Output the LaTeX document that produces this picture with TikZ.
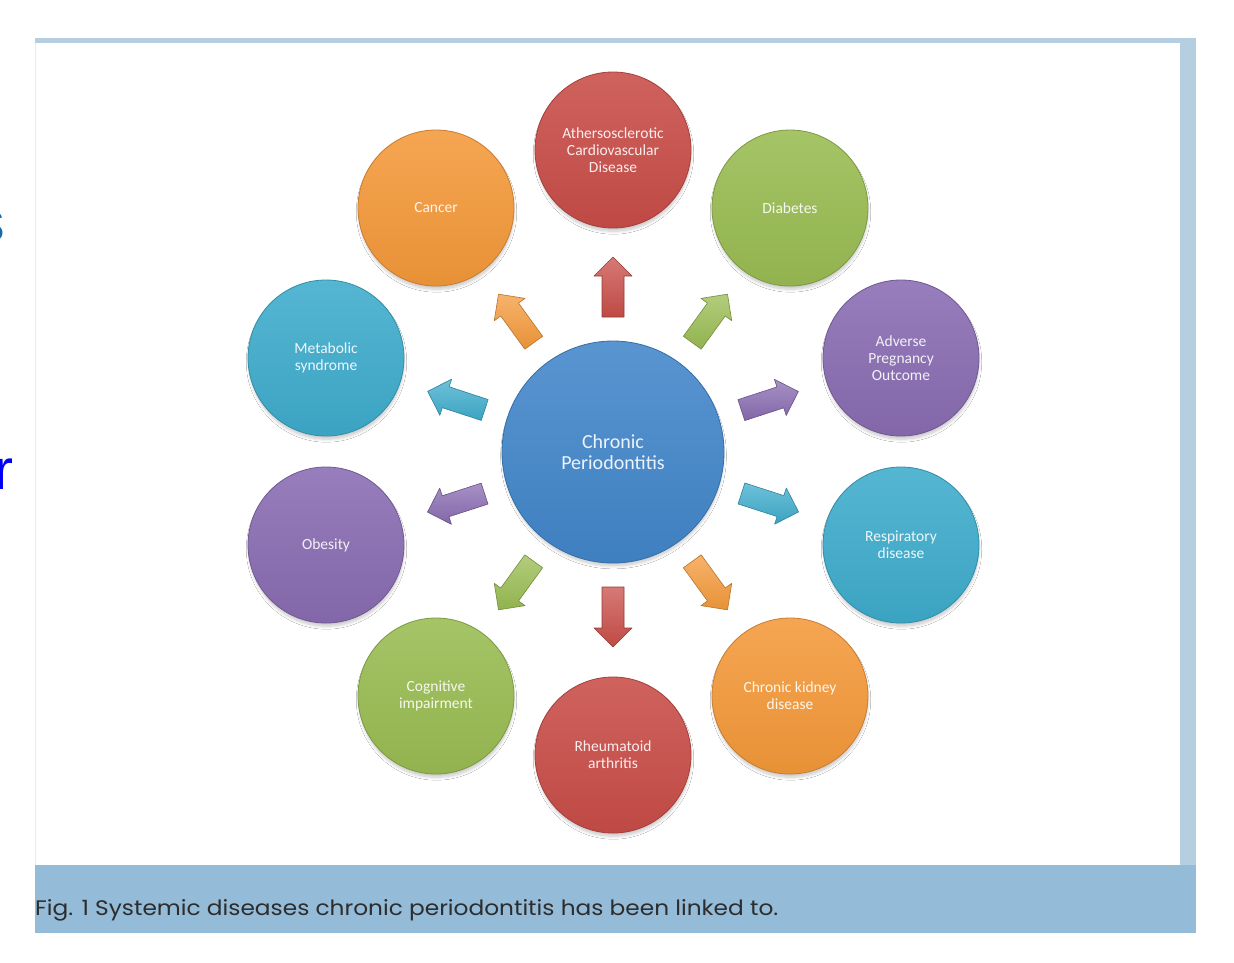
\documentclass[tikz,border=0pt]{standalone}
\usepackage{fontspec}
\setmainfont{Carlito}
\newfontfamily\capfont{Poppins}
\newfontfamily\arialfont{Liberation Sans}
\usetikzlibrary{calc,shadows.blur}
\definecolor{cRed}{RGB}{201,77,72}
\definecolor{cGreen}{RGB}{153,188,82}
\definecolor{cPurple}{RGB}{137,108,178}
\definecolor{cTeal}{RGB}{62,172,204}
\definecolor{cOrange}{RGB}{244,153,58}
\definecolor{cBlue}{RGB}{66,134,202}
\definecolor{bandLight}{RGB}{181,207,224}
\definecolor{bandCap}{RGB}{148,187,216}
\definecolor{capText}{RGB}{45,45,45}
\definecolor{sBlue}{RGB}{20,110,165}
\definecolor{rBlue}{RGB}{0,0,245}
\tikzset{
  disc/.style={circle, minimum size=156pt, inner sep=0pt, align=center,
    text=white!90!#1, font=\fontsize{15.5}{17}\selectfont,
    top color=#1!88!white, bottom color=#1!95!black,
    draw=#1!82!black, line width=0.8pt,
    blur shadow={shadow xshift=0.5pt, shadow yshift=-4pt, shadow scale=0.99, shadow blur radius=3pt, shadow blur steps=8, shadow opacity=22}},
  bigdisc/.style={disc=#1, minimum size=222pt, font=\fontsize{20}{21.5}\selectfont},
  blockarrow/.style={top color=#1!75!white, bottom color=#1!95!black,
    draw=#1!75!black, line width=0.6pt, line join=round},
  leftglyph/.style={inner sep=0pt, font=\arialfont\fontsize{57}{57}\selectfont}
}
\newcommand{\blockarr}[3]{%
  \coordinate (ab) at ($(#1.center)!135pt!(#2.center)$);
  \coordinate (ah) at ($(#1.center)!176pt!(#2.center)$);
  \coordinate (at) at ($(#1.center)!195pt!(#2.center)$);
  \draw[blockarrow=#3] ($(ab)!11pt!90:(at)$) -- ($(ah)!11pt!90:(at)$) -- ($(ah)!19pt!90:(at)$) -- (at)
    -- ($(ah)!19pt!-90:(at)$) -- ($(ah)!11pt!-90:(at)$) -- ($(ab)!11pt!-90:(at)$) -- cycle;}
\begin{document}
\begin{tikzpicture}[x=1pt,y=-1pt]
\useasboundingbox (0,0) rectangle (1234,962);
\fill[white] (0,0) rectangle (1234,962);
% frame
\fill[bandLight] (35,38) rectangle (1196,43);
\fill[bandLight] (1180,38) rectangle (1196,865);
\fill[bandCap] (35,865) rectangle (1196,933);
\draw[black!8] (35.5,43) -- (35.5,865);
% cut-off letters at the left
\node[leftglyph, text=sBlue, anchor=base east] (gs) at (5,241) {s};
\node[leftglyph, text=rBlue, anchor=base west] (gr) at (-6,489) {r};
% circles
\node[bigdisc=cBlue] (cp) at (613,452) {Chronic\\Periodontitis};
\node[disc=cRed] (ascvd) at (613,150) {Athersosclerotic\\Cardiovascular\\Disease};
\node[disc=cGreen] (diab) at (790,208) {Diabetes};
\node[disc=cPurple] (apo) at (901,358) {Adverse\\Pregnancy\\Outcome};
\node[disc=cTeal] (resp) at (901,545) {Respiratory\\disease};
\node[disc=cOrange] (ckd) at (790,696) {Chronic kidney\\disease};
\node[disc=cRed] (ra) at (613,755) {Rheumatoid\\arthritis};
\node[disc=cGreen] (cog) at (436,696) {Cognitive\\impairment};
\node[disc=cPurple] (obes) at (326,545) {Obesity};
\node[disc=cTeal] (meta) at (326,358) {Metabolic\\syndrome};
\node[disc=cOrange] (canc) at (436,208) {Cancer};
% arrows
\blockarr{cp}{ascvd}{cRed}
\blockarr{cp}{diab}{cGreen}
\blockarr{cp}{apo}{cPurple}
\blockarr{cp}{resp}{cTeal}
\blockarr{cp}{ckd}{cOrange}
\blockarr{cp}{ra}{cRed}
\blockarr{cp}{cog}{cGreen}
\blockarr{cp}{obes}{cPurple}
\blockarr{cp}{meta}{cTeal}
\blockarr{cp}{canc}{cOrange}
% caption
\node[anchor=base west, inner sep=0pt, text=capText] (cap) at (35,915)
  {\resizebox{743pt}{16pt}{\capfont Fig. 1 Systemic diseases chronic periodontitis has been linked to.}};
\end{tikzpicture}
\end{document}
